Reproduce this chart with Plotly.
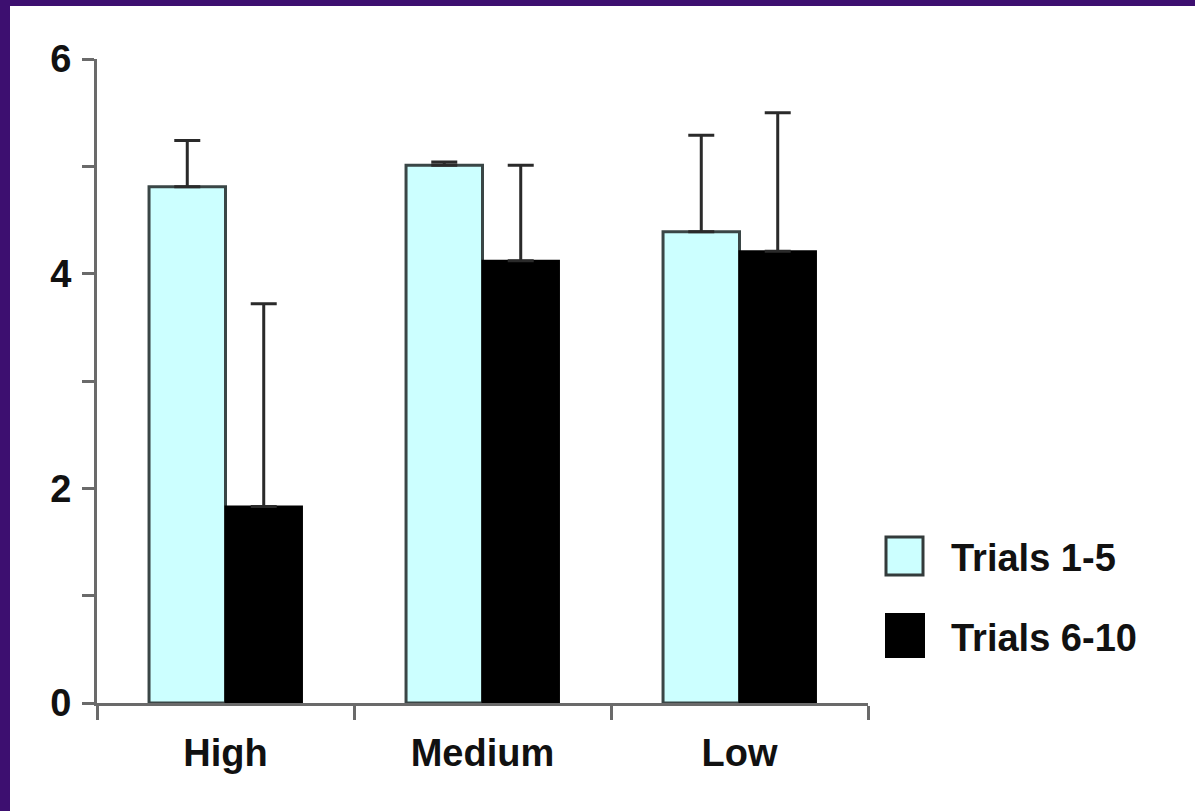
import plotly.graph_objects as go

# Mean scores per difficulty level, split by trial block
categories = ["High", "Medium", "Low"]
trials_1_5 = [4.81, 5.01, 4.39]
trials_1_5_err = [0.43, 0.03, 0.90]
trials_6_10 = [1.83, 4.12, 4.21]
trials_6_10_err = [1.89, 0.89, 1.29]
y_tickvals = [0, 2, 4, 6]
legend_labels = ["Trials 1-5", "Trials 6-10"]

W, H = 1195, 811
L, R, T, B = 97, 327, 59, 108
PW, PH = W - L - R, H - T - B

FONT = "Liberation Sans, Arial, sans-serif"
FSIZE = 38
LIGHT = "#ccffff"
PURPLE = "#3d0f70"
AXIS = "#6a6a6a"


def px(x):
    return (x - L) / PW


def py(y):
    return (H - B - y) / PH


fig = go.Figure()
fig.add_trace(go.Bar(
    x=categories, y=trials_1_5, name=legend_labels[0],
    marker=dict(color=LIGHT, line=dict(color="#3a4646", width=3)),
    error_y=dict(type="data", symmetric=False, array=trials_1_5_err,
                 arrayminus=[0] * 3, color="#2a2a2a", thickness=3, width=13),
    showlegend=False,
))
fig.add_trace(go.Bar(
    x=categories, y=trials_6_10, name=legend_labels[1],
    marker=dict(color="#000000", line=dict(color="#000000", width=2)),
    error_y=dict(type="data", symmetric=False, array=trials_6_10_err,
                 arrayminus=[0] * 3, color="#2a2a2a", thickness=3, width=13),
    showlegend=False,
))

shapes = [
    # purple frame strips along the left and top edges
    dict(type="rect", xref="paper", yref="paper", layer="above",
         x0=px(0), x1=px(10), y0=py(H), y1=py(0),
         fillcolor=PURPLE, line=dict(width=0)),
    dict(type="rect", xref="paper", yref="paper", layer="above",
         x0=px(0), x1=px(W), y0=py(6), y1=py(0),
         fillcolor=PURPLE, line=dict(width=0)),
    # legend swatches
    dict(type="rect", xref="paper", yref="paper",
         x0=px(886), x1=px(923), y0=py(575), y1=py(537),
         fillcolor=LIGHT, line=dict(color="#333b3b", width=3)),
    dict(type="rect", xref="paper", yref="paper",
         x0=px(886), x1=px(924), y0=py(657), y1=py(614),
         fillcolor="#000000", line=dict(color="#000000", width=2)),
]

annotations = [
    dict(xref="paper", yref="paper", x=px(949), y=py(558), text=legend_labels[0],
         showarrow=False, xanchor="left", yanchor="middle",
         font=dict(family=FONT, size=FSIZE, color="#111111", weight="bold")),
    dict(xref="paper", yref="paper", x=px(949), y=py(638), text=legend_labels[1],
         showarrow=False, xanchor="left", yanchor="middle",
         font=dict(family=FONT, size=FSIZE, color="#111111", weight="bold")),
]

fig.update_layout(
    width=W, height=H,
    margin=dict(l=L, r=R, t=T, b=B, pad=0),
    paper_bgcolor="white", plot_bgcolor="white",
    barmode="group", bargap=0.405, bargroupgap=0,
    shapes=shapes, annotations=annotations,
    font=dict(family=FONT, color="#111111"),
)
fig.update_xaxes(
    type="category", tickson="boundaries",
    showline=True, linecolor=AXIS, linewidth=3,
    ticks="outside", ticklen=14, tickwidth=3, tickcolor=AXIS,
    ticklabelstandoff=14,
    showgrid=False, zeroline=False,
    tickfont=dict(family=FONT, size=FSIZE, color="#111111", weight="bold"),
)
fig.update_yaxes(
    range=[0, 6], tickvals=y_tickvals,
    showline=True, linecolor=AXIS, linewidth=3,
    ticks="outside", ticklen=12, tickwidth=3, tickcolor=AXIS,
    ticklabelstandoff=3,
    minor=dict(dtick=1, ticks="outside", ticklen=12, tickwidth=3, tickcolor=AXIS),
    showgrid=False, zeroline=False,
    tickfont=dict(family=FONT, size=FSIZE, color="#111111", weight="bold"),
)

fig.write_html("out.html")
